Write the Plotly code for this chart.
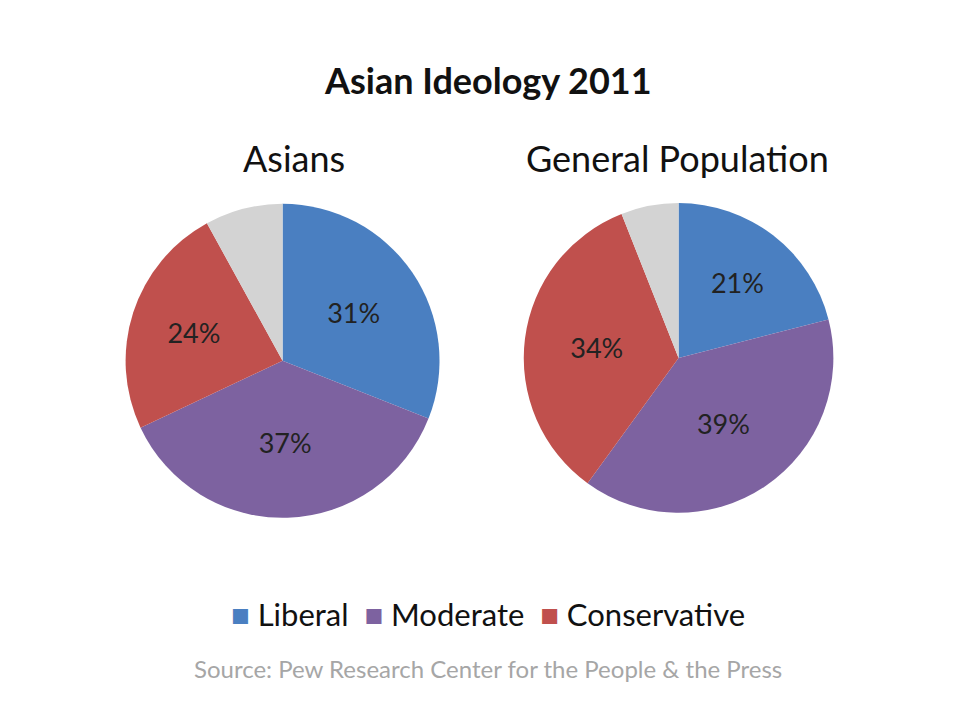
# Pie charts: Asian Ideology 2011
import plotly.graph_objects as go

categorias = ['Liberal', 'Moderate', 'Conservative', 'Other']
asians = [31, 37, 24, 8]
general = [21, 39, 34, 6]
colores = ['#4a7fc1', '#7d62a0', '#c0504d', '#d3d3d3']

def etiquetas(vals):
    return [f'{v}%' for v in vals[:3]] + ['']

fig = go.Figure()
fig.add_trace(go.Pie(
    values=asians, labels=categorias, text=etiquetas(asians), textinfo='text',
    sort=False, direction='clockwise', rotation=0,
    marker=dict(colors=colores), textposition='inside', insidetextorientation='horizontal',
    textfont=dict(size=27, color='#222222'), showlegend=False, hoverinfo='label+percent',
    domain=dict(x=[0.122, 0.45], y=[0.292, 0.728]),
))
fig.add_trace(go.Pie(
    values=general, labels=categorias, text=etiquetas(general), textinfo='text',
    sort=False, direction='clockwise', rotation=0,
    marker=dict(colors=colores), textposition='inside', insidetextorientation='horizontal',
    textfont=dict(size=27, color='#222222'), showlegend=False, hoverinfo='label+percent',
    domain=dict(x=[0.537, 0.86], y=[0.299, 0.729]),
))

anots = [
    dict(text='<b>Asian Ideology 2011</b>', x=0.5, y=0.9, font=dict(size=36)),
    dict(text='Asians', x=0.298, y=0.792, font=dict(size=36)),
    dict(text='General Population', x=0.697, y=0.792, font=dict(size=36)),
    dict(text='<span style="color:#4a7fc1">■</span> Liberal  '
              '<span style="color:#7d62a0">■</span> Moderate  '
              '<span style="color:#c0504d">■</span> Conservative',
         x=0.5, y=0.158, font=dict(size=31)),
    dict(text='Source: Pew Research Center for the People & the Press',
         x=0.5, y=0.082, font=dict(size=24, color='#a6a6a6')),
]
for a in anots:
    a.update(xref='paper', yref='paper', showarrow=False, xanchor='center', yanchor='middle')

fig.update_layout(
    width=960, height=720, margin=dict(l=0, r=0, t=0, b=0),
    paper_bgcolor='white', font=dict(family='Lato', color='#111111'),
    annotations=anots,
)
fig.write_html('out.html')
